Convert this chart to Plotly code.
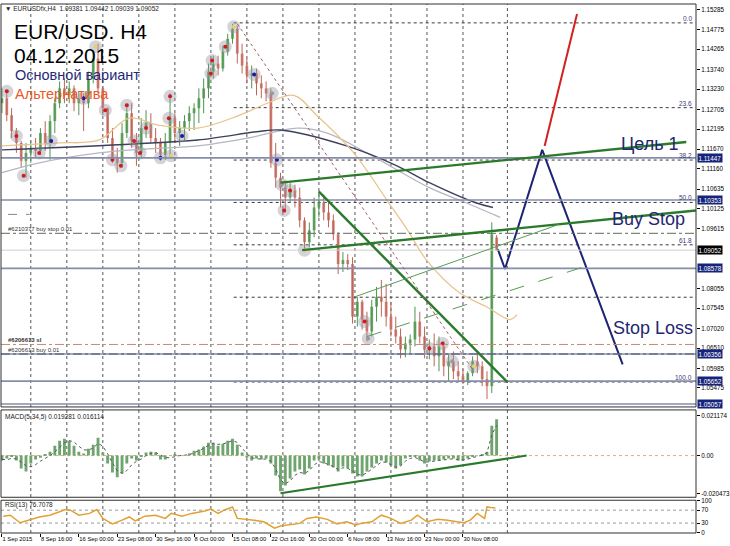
import plotly.graph_objects as go

# ---------------- data (H4 bars, index 0 = 1 Sep 2015 00:00; one candle per 4 bars) ----------------
bar = list(range(0, 416, 4))
opens = [1.12864, 1.12993, 1.12555, 1.12143, 1.11834, 1.11370, 1.11576, 1.11705, 1.11628, 1.12091,
         1.11834, 1.12400, 1.12864, 1.13250, 1.13070, 1.13250, 1.12864, 1.12993, 1.12864, 1.13508,
         1.14023, 1.13250, 1.12735, 1.11962, 1.11447, 1.11318, 1.12091, 1.12606, 1.11885, 1.11576,
         1.12220, 1.12349, 1.11962, 1.11834, 1.11525, 1.11834, 1.12478, 1.12091, 1.12220, 1.12400,
         1.12606, 1.12735, 1.12993, 1.13250, 1.13688, 1.13894, 1.13766, 1.14204, 1.14538, 1.14796,
         1.14152, 1.13843, 1.13585, 1.13637, 1.13379, 1.13250, 1.13122, 1.11318, 1.10932, 1.10674,
         1.10417, 1.10597, 1.10417, 1.09824, 1.09258, 1.09567, 1.10159, 1.10288, 1.10030, 1.09824,
         1.09464, 1.08691, 1.08794, 1.08691, 1.07326, 1.07712, 1.07248, 1.06939, 1.07583, 1.07841,
         1.07712, 1.07326, 1.06991, 1.06810, 1.06475, 1.06630, 1.06733, 1.07197, 1.06810, 1.06475,
         1.06553, 1.06295, 1.06553, 1.06037, 1.06166, 1.05908, 1.05780, 1.05651, 1.05857, 1.06166,
         1.06037, 1.05703, 1.05522, 1.09381]
highs = [1.13250, 1.13173, 1.12735, 1.12220, 1.11885, 1.11834, 1.11885, 1.11962, 1.12220, 1.12400,
         1.12555, 1.12993, 1.13431, 1.13508, 1.13431, 1.13328, 1.13173, 1.13122, 1.13688, 1.14204,
         1.14410, 1.13302, 1.12760, 1.12220, 1.11705, 1.12349, 1.12864, 1.12864, 1.12091, 1.12478,
         1.12684, 1.12606, 1.12220, 1.11962, 1.12091, 1.13122, 1.12606, 1.12400, 1.12555, 1.12787,
         1.12864, 1.13250, 1.13508, 1.13894, 1.14100, 1.14100, 1.14358, 1.14667, 1.14925, 1.14873,
         1.14410, 1.14023, 1.13843, 1.13766, 1.13585, 1.13431, 1.13250, 1.11834, 1.11061, 1.10855,
         1.10803, 1.10752, 1.10674, 1.09902, 1.09773, 1.10417, 1.10597, 1.10494, 1.10288, 1.09979,
         1.09515, 1.09000, 1.08949, 1.08871, 1.07841, 1.07764, 1.07454, 1.07764, 1.08098, 1.08279,
         1.08176, 1.07712, 1.07326, 1.07017, 1.06810, 1.06862, 1.07583, 1.07454, 1.07068, 1.06733,
         1.06888, 1.06810, 1.06682, 1.06372, 1.06424, 1.06166, 1.05960, 1.05908, 1.06295, 1.06372,
         1.06166, 1.05908, 1.09773, 1.09442]
lows = [1.12606, 1.12400, 1.11962, 1.11576, 1.11190, 1.10932, 1.11318, 1.11447, 1.11525, 1.11628,
        1.11396, 1.12091, 1.12735, 1.12864, 1.12864, 1.12658, 1.12555, 1.12143, 1.12735, 1.13379,
        1.13122, 1.12555, 1.11834, 1.11318, 1.11061, 1.11190, 1.11962, 1.11705, 1.11241, 1.11447,
        1.11962, 1.11834, 1.11576, 1.11370, 1.11396, 1.11447, 1.11834, 1.11756, 1.11885, 1.12143,
        1.12169, 1.12349, 1.12606, 1.12993, 1.13508, 1.13585, 1.13688, 1.14100, 1.14410, 1.13894,
        1.13637, 1.13379, 1.13250, 1.13070, 1.12993, 1.12916, 1.11190, 1.10674, 1.10159, 1.10030,
        1.10288, 1.10159, 1.09644, 1.09000, 1.09129, 1.09386, 1.09902, 1.09824, 1.09644, 1.09309,
        1.08433, 1.08485, 1.08536, 1.07146, 1.07068, 1.06991, 1.06682, 1.06810, 1.07197, 1.07326,
        1.07068, 1.06810, 1.06630, 1.06243, 1.06269, 1.06372, 1.06553, 1.06630, 1.06243, 1.06218,
        1.06037, 1.05908, 1.05780, 1.05651, 1.05703, 1.05651, 1.05574, 1.05548, 1.05780, 1.05857,
        1.05522, 1.05188, 1.05342, 1.09039]
closes = [1.12993, 1.12555, 1.12143, 1.11834, 1.11370, 1.11576, 1.11705, 1.11628, 1.12091, 1.11834,
          1.12400, 1.12864, 1.13250, 1.13070, 1.13250, 1.12864, 1.12993, 1.12864, 1.13508, 1.14023,
          1.13250, 1.12735, 1.11962, 1.11447, 1.11318, 1.12091, 1.12606, 1.11885, 1.11576, 1.12220,
          1.12349, 1.11962, 1.11834, 1.11525, 1.11834, 1.12478, 1.12091, 1.12220, 1.12400, 1.12606,
          1.12735, 1.12993, 1.13250, 1.13688, 1.13894, 1.13766, 1.14204, 1.14538, 1.14796, 1.14152,
          1.13843, 1.13585, 1.13637, 1.13379, 1.13250, 1.13122, 1.11318, 1.10932, 1.10674, 1.10417,
          1.10597, 1.10417, 1.09824, 1.09258, 1.09567, 1.10159, 1.10288, 1.10030, 1.09824, 1.09464,
          1.08691, 1.08794, 1.08691, 1.07326, 1.07712, 1.07248, 1.06939, 1.07583, 1.07841, 1.07712,
          1.07326, 1.06991, 1.06810, 1.06475, 1.06630, 1.06733, 1.07197, 1.06810, 1.06475, 1.06553,
          1.06295, 1.06553, 1.06037, 1.06166, 1.05908, 1.05780, 1.05651, 1.05857, 1.06166, 1.06037,
          1.05703, 1.05522, 1.09464, 1.09052]

# moving averages (bar index, price)
ma_tan_bars = [0, 48, 81, 106, 130, 163, 196, 221, 243, 262, 293, 322, 339, 353, 380, 405, 423, 429]
ma_tan_vals = [1.11756, 1.11834, 1.11911, 1.12478, 1.12297, 1.12220, 1.12529, 1.12864, 1.13070,
               1.12555, 1.11576, 1.10288, 1.09515, 1.08820, 1.07970, 1.07558, 1.07249, 1.07377]
ma_navy_bars = [0, 110, 163, 217, 232, 287, 329, 356, 394, 409]
ma_navy_vals = [1.11653, 1.11808, 1.11911, 1.12143, 1.12169, 1.11756, 1.11241, 1.10803, 1.10288, 1.10159]
ma_gray_bars = [0, 31, 81, 122, 163, 205, 246, 271, 304, 356, 386, 415]
ma_gray_vals = [1.11061, 1.11318, 1.11576, 1.11679, 1.11756, 1.11962, 1.12220, 1.12091, 1.11576,
                1.10674, 1.10288, 1.09902]

# fractal circles (bar index, price, dot colour key)
circ_bars = [4, 12, 18, 31, 41, 68, 78, 86, 92, 99, 104, 110, 115, 120, 132, 141, 140, 139, 150, 174,
             175, 186, 193, 210, 225, 229, 233, 235, 240, 252, 302, 305, 356, 367, 375, 393]
circ_vals = [1.13173, 1.12014, 1.10984, 1.11576, 1.11885, 1.12993, 1.14332, 1.12684, 1.11396, 1.11241,
             1.12813, 1.11885, 1.11576, 1.12220, 1.11447, 1.11499, 1.13044, 1.12478, 1.12014, 1.13637,
             1.13972, 1.14332, 1.14848, 1.13611, 1.13122, 1.11396, 1.10752, 1.10082, 1.10597, 1.09052,
             1.07197, 1.06759, 1.06501, 1.06630, 1.06166, 1.06037]
circ_kind = ["r", "r", "r", "r", "b", "b", "y", "r", "r", "r", "r", "r", "r", "r", "b", "y", "r", "r", "b", "r",
             "r", "r", "y", "b", "g", "b", "g", "r", "r", "y", "r", "g", "r", "r", "g", "y"]

# MACD(5,34,5) histogram and signal, sampled like the candles
macd = [-0.0026, -0.0016, -0.0005, -0.0026, -0.0069, -0.0085, -0.0042, -0.0021, -0.0011, 0.0005,
        0.0021, 0.0053, 0.0079, 0.0090, 0.0079, 0.0053, 0.0021, 0.0011, 0.0037, 0.0058,
        0.0095, 0.0016, -0.0042, -0.0090, -0.0116, -0.0095, -0.0042, -0.0016, -0.0026, -0.0005,
        0.0016, 0.0021, 0.0016, -0.0021, -0.0021, 0.0000, 0.0005, 0.0000, 0.0000, 0.0011,
        0.0026, 0.0032, 0.0048, 0.0069, 0.0069, 0.0053, 0.0063, 0.0079, 0.0090, 0.0058,
        0.0016, -0.0011, -0.0026, -0.0016, -0.0021, -0.0016, -0.0042, -0.0106, -0.0190, -0.0159,
        -0.0122, -0.0085, -0.0074, -0.0101, -0.0069, -0.0026, -0.0021, -0.0042, -0.0053, -0.0063,
        -0.0085, -0.0058, -0.0069, -0.0095, -0.0111, -0.0111, -0.0085, -0.0063, -0.0042, -0.0026,
        -0.0037, -0.0053, -0.0069, -0.0053, -0.0016, -0.0005, -0.0005, -0.0026, -0.0042, -0.0032,
        -0.0026, -0.0026, -0.0021, -0.0016, -0.0016, -0.0026, -0.0026, -0.0016, -0.0005, 0.0000,
        0.0005, 0.0021, 0.0159, 0.0193]
signal = [-0.0020, -0.0022, -0.0015, -0.0018, -0.0035, -0.0055, -0.0060, -0.0048, -0.0030, -0.0015,
          0.0000, 0.0020, 0.0045, 0.0068, 0.0080, 0.0072, 0.0050, 0.0030, 0.0030, 0.0040,
          0.0065, 0.0050, 0.0010, -0.0040, -0.0080, -0.0095, -0.0080, -0.0050, -0.0030, -0.0018,
          0.0000, 0.0012, 0.0016, 0.0005, -0.0010, -0.0012, -0.0005, 0.0000, 0.0002, 0.0005,
          0.0015, 0.0025, 0.0038, 0.0055, 0.0065, 0.0060, 0.0062, 0.0070, 0.0080, 0.0070,
          0.0040, 0.0010, -0.0012, -0.0018, -0.0020, -0.0018, -0.0030, -0.0070, -0.0130, -0.0150,
          -0.0135, -0.0105, -0.0090, -0.0095, -0.0080, -0.0050, -0.0032, -0.0038, -0.0048, -0.0058,
          -0.0075, -0.0065, -0.0068, -0.0085, -0.0100, -0.0105, -0.0092, -0.0072, -0.0052, -0.0035,
          -0.0035, -0.0048, -0.0062, -0.0055, -0.0030, -0.0015, -0.0010, -0.0020, -0.0035, -0.0033,
          -0.0028, -0.0026, -0.0023, -0.0019, -0.0017, -0.0022, -0.0024, -0.0019, -0.0010, -0.0004,
          0.0002, 0.0015, 0.0110, 0.0161]

# RSI(13)
rsi_bars = [1, 7, 15, 23, 31, 40, 48, 53, 57, 64, 73, 79, 84, 92, 100, 106, 111, 119, 128, 136,
            141, 150, 158, 169, 174, 180, 185, 192, 196, 205, 210, 218, 227, 232, 240, 248, 254, 262, 271, 279,
            287, 295, 299, 308, 316, 324, 332, 341, 346, 354, 363, 371, 379, 385, 390, 396, 402, 404, 407, 411]
rsi_vals = [51.5, 54.5, 31, 39, 49, 54.5, 64.5, 72, 70, 54.5, 60, 72, 44.5, 27, 39, 49, 37, 51.5, 54.5, 44.5,
            60, 51.5, 60, 67.5, 73.7, 60, 70, 80, 44.5, 41.5, 39, 34, 14, 21, 24, 29, 44.5, 49, 41.5, 27,
            34, 24, 29, 34, 54.5, 44.5, 29, 39, 54.5, 34, 41.5, 39, 34, 31, 39, 60, 44.5, 80, 78, 76.7]

# axis ticks
xtick_bars = [0, 32, 64, 96, 128, 160, 192, 224, 256, 288, 320, 352, 384]
xtick_text = ["1 Sep 2015", "8 Sep 16:00", "16 Sep 00:00", "23 Sep 08:00", "30 Sep 16:00", "8 Oct 00:00",
              "15 Oct 08:00", "22 Oct 16:00", "30 Oct 00:00", "6 Nov 08:00", "13 Nov 16:00",
              "23 Nov 00:00", "30 Nov 08:00"]
grid_bars = [24, 54, 84, 114, 144, 174, 204, 234, 264, 294, 324, 354, 384, 421]
price_ticks = [1.15285, 1.14775, 1.14265, 1.13740, 1.13230, 1.12705, 1.12195, 1.11670, 1.11160, 1.10635,
               1.10125, 1.09615, 1.08055, 1.07545, 1.07020, 1.06510, 1.05985, 1.05475]
level_prices = [1.11447, 1.10353, 1.08578, 1.06356, 1.05652, 1.05057]
bid_price = 1.09052

# fibonacci retracement
fib_names = ["0.0", "23.6", "38.2", "50.0", "61.8", "", "100.0"]
fib_prices = [1.1495, 1.1275, 1.1139, 1.1029, 1.0919, 1.0783, 1.0563]
fib_start = 193

# orders
orders = [("#6210377 buy stop 0.01", 1.09489), ("<b>#6206613 sl</b>", 1.06604), ("#6206613 buy 0.01", 1.06356)]

# drawn objects: (bar0, price0, bar1, price1)
green_thick = [(232, 1.10803, 570, 1.11859), (250, 1.09052, 578, 1.10082), (264, 1.10571, 421, 1.05626)]
green_thin = (294, 1.07841, 464, 1.09721)
green_dash = (304, 1.06810, 492, 1.08691)
fib_diag = (196, 1.14925, 393, 1.05909)
path_main_bars = [413, 419, 450, 517]
path_main_vals = [1.09077, 1.08562, 1.11653, 1.06089]
path_alt_bars = [452, 479]
path_alt_vals = [1.11756, 1.15182]
macd_trend = (232, -0.0201, 437, 0.0)

# ---------------- geometry ----------------
W, H = 730, 546
ML, MR, MT, MB = 1, 27, 0, 13
PW, PH = W - ML - MR, H - MT - MB
def fx(x): return (x - ML) / PW
def fy(y): return 1 - (y - MT) / PH

D_MAIN = [fy(406), 1.0]
D_MACD = [fy(497), fy(409)]
D_RSI = [0.0, fy(500)]
FONT = "Liberation Sans, Arial, sans-serif"

fig = go.Figure()

# candles: bodies as bars, wicks as lines
up = [c >= o for o, c in zip(opens, closes)]
body_base = [min(o, c) for o, c in zip(opens, closes)]
body_len = [max(abs(c - o), 0.00008) for o, c in zip(opens, closes)]
for flag, wick_col, body_col in [(True, "#4f944f", "#6aa86a"), (False, "#bd6457", "#d4847a")]:
    wx, wy = [], []
    for b, h, l, u in zip(bar, highs, lows, up):
        if u == flag:
            wx += [b, b, None]
            wy += [h, l, None]
    fig.add_trace(go.Scatter(x=wx, y=wy, mode="lines", line=dict(color=wick_col, width=1),
                             xaxis="x", yaxis="y", hoverinfo="skip", showlegend=False))
    fig.add_trace(go.Bar(x=[b for b, u in zip(bar, up) if u == flag],
                         y=[v for v, u in zip(body_len, up) if u == flag],
                         base=[v for v, u in zip(body_base, up) if u == flag],
                         width=2.3, marker=dict(color=body_col, line=dict(width=0)),
                         xaxis="x", yaxis="y", hoverinfo="skip", showlegend=False))

for bx, vy, col, w in [(ma_gray_bars, ma_gray_vals, "#b4b6c2", 1.3),
                       (ma_navy_bars, ma_navy_vals, "#3c3f5e", 1.4),
                       (ma_tan_bars, ma_tan_vals, "#e9c48e", 1.3)]:
    fig.add_trace(go.Scatter(x=bx, y=vy, mode="lines", line=dict(color=col, width=w, shape="spline"),
                             xaxis="x", yaxis="y", hoverinfo="skip", showlegend=False))

fig.add_trace(go.Scatter(x=circ_bars, y=circ_vals, mode="markers",
                         marker=dict(size=13, color="rgba(150,150,165,0.42)", line=dict(width=0)),
                         xaxis="x", yaxis="y", hoverinfo="skip", showlegend=False))
dotcol = {"r": "#d11a1a", "b": "#1a1aa8", "y": "#e8d060", "g": "#9a9a9a"}
fig.add_trace(go.Scatter(x=circ_bars, y=circ_vals, mode="markers",
                         marker=dict(size=4, color=[dotcol[k] for k in circ_kind]),
                         xaxis="x", yaxis="y", hoverinfo="skip", showlegend=False))

# forecast paths
fig.add_trace(go.Scatter(x=path_main_bars, y=path_main_vals, mode="lines",
                         line=dict(color="#1c2474", width=2), xaxis="x", yaxis="y",
                         hoverinfo="skip", showlegend=False))
fig.add_trace(go.Scatter(x=path_alt_bars, y=path_alt_vals, mode="lines",
                         line=dict(color="#d42020", width=2), xaxis="x", yaxis="y",
                         hoverinfo="skip", showlegend=False))

# MACD
fig.add_trace(go.Bar(x=bar, y=macd, width=2.4, marker=dict(color="#6ea56e", line=dict(width=0)),
                     xaxis="x", yaxis="y2", hoverinfo="skip", showlegend=False))
fig.add_trace(go.Scatter(x=bar, y=signal, mode="lines", line=dict(color="#5a5a5a", width=1, dash="dot"),
                         xaxis="x", yaxis="y2", hoverinfo="skip", showlegend=False))
# RSI
fig.add_trace(go.Scatter(x=rsi_bars, y=rsi_vals, mode="lines", line=dict(color="#e2a032", width=1.5),
                         xaxis="x", yaxis="y3", hoverinfo="skip", showlegend=False))

shapes = []
for b in grid_bars:
    shapes.append(dict(type="line", xref="x", yref="paper", x0=b, x1=b, y0=0, y1=1, layer="below",
                       line=dict(color="#555555", width=1, dash="dot")))
for p in fib_prices:
    shapes.append(dict(type="line", xref="x", yref="y", x0=fib_start, x1=578, y0=p, y1=p, layer="below",
                       line=dict(color="#3a3a3a", width=1, dash="dot")))
for p in level_prices:
    shapes.append(dict(type="line", xref="paper", yref="y", x0=0, x1=1, y0=p, y1=p,
                       line=dict(color="#868cab", width=1.6)))
shapes.append(dict(type="line", xref="paper", yref="y", x0=0, x1=1, y0=bid_price, y1=bid_price,
                   line=dict(color="#cfcfcf", width=1)))
order_cols = ["#5b6b5b", "#c68a6c", "#4d5470"]
for (t, p), c in zip(orders, order_cols):
    shapes.append(dict(type="line", xref="paper", yref="y", x0=0, x1=1, y0=p, y1=p,
                       line=dict(color=c, width=1, dash="dashdot")))
shapes.append(dict(type="line", xref="x", yref="y", x0=5, x1=23, y0=1.09979, y1=1.09979,
                   line=dict(color="#888888", width=1, dash="dash")))
for (a0, p0, a1, p1) in green_thick:
    shapes.append(dict(type="line", xref="x", yref="y", x0=a0, y0=p0, x1=a1, y1=p1,
                       line=dict(color="#2b7a2b", width=2.4)))
a0, p0, a1, p1 = green_thin
shapes.append(dict(type="line", xref="x", yref="y", x0=a0, y0=p0, x1=a1, y1=p1,
                   line=dict(color="#5a9a5a", width=1)))
a0, p0, a1, p1 = green_dash
shapes.append(dict(type="line", xref="x", yref="y", x0=a0, y0=p0, x1=a1, y1=p1,
                   line=dict(color="#5a9a5a", width=1, dash="longdash")))
a0, p0, a1, p1 = fib_diag
shapes.append(dict(type="line", xref="x", yref="y", x0=a0, y0=p0, x1=a1, y1=p1,
                   line=dict(color="#a06060", width=1, dash="dot")))
a0, p0, a1, p1 = macd_trend
shapes.append(dict(type="line", xref="x", yref="y2", x0=a0, y0=p0, x1=a1, y1=p1,
                   line=dict(color="#2b7a2b", width=2)))
shapes.append(dict(type="line", xref="paper", yref="y2", x0=0, x1=1, y0=0, y1=0, layer="below",
                   line=dict(color="#d8ae7a", width=1, dash="dot")))
for v in [70, 30]:
    shapes.append(dict(type="line", xref="paper", yref="y3", x0=0, x1=1, y0=v, y1=v, layer="below",
                       line=dict(color="#9a9a9a", width=1, dash="dot")))
for d in [D_MAIN, D_MACD, D_RSI]:
    shapes.append(dict(type="rect", xref="paper", yref="paper", x0=0, x1=1, y0=d[0], y1=d[1],
                       line=dict(color="#303030", width=1)))

ann = []
def txt(x, y, s, size, color="#000000"):
    ann.append(dict(xref="paper", yref="paper", x=fx(x), y=fy(y), text=s, showarrow=False,
                    xanchor="left", yanchor="middle", borderpad=0,
                    font=dict(family=FONT, size=size, color=color)))

txt(4, 5, "▼ EURUSDfx,H4  1.09381 1.09442 1.09039 1.09052", 6.5, "#222222")
txt(13, 28, "EUR/USD. H4", 21)
txt(13, 51.5, "04.12.2015", 21)
txt(14, 71.5, "Основной вариант", 14.5, "#252a78")
txt(14, 90.5, "Альтернатива", 14.5, "#ea5a26")
txt(626, 141, "Цель 1", 18, "#1f2772")
txt(617, 217, "Buy Stop", 18, "#1f2772")
txt(618, 326, "Stop Loss", 18, "#1f2772")
txt(4, 416, "MACD(5,34,5) 0.019281 0.016114", 6.5, "#222222")
txt(4, 505, "RSI(13) 76.7078", 6.5, "#222222")

for n, p in zip(fib_names, fib_prices):
    if n:
        ann.append(dict(xref="paper", yref="y", x=0.997, y=p, text=n, showarrow=False, xanchor="right",
                        yanchor="bottom", yshift=-1, font=dict(family=FONT, size=6.5, color="#3c3c7c")))
for t, p in orders:
    ann.append(dict(xref="paper", yref="y", x=fx(6), y=p, text=t, showarrow=False, xanchor="left",
                    yanchor="bottom", yshift=-1, font=dict(family=FONT, size=6, color="#333333")))
for p in level_prices:
    ann.append(dict(xref="paper", yref="y", x=1, y=p, text=f"{p:.5f}", showarrow=False, xanchor="left",
                    xshift=1, yanchor="middle", bgcolor="#16237a", borderpad=0.5,
                    font=dict(family=FONT, size=6.3, color="#ffffff")))
ann.append(dict(xref="paper", yref="y", x=1, y=bid_price, text=f"{bid_price:.5f}", showarrow=False,
                xanchor="left", xshift=1, yanchor="middle", bgcolor="#000000", borderpad=0.5,
                font=dict(family=FONT, size=6.3, color="#ffffff")))

axis_font = dict(family=FONT, size=6.3, color="#000000")
fig.update_layout(
    width=W, height=H, margin=dict(l=ML, r=MR, t=MT, b=MB),
    paper_bgcolor="#ffffff", plot_bgcolor="#ffffff", showlegend=False, barmode="overlay",
    xaxis=dict(domain=[0, 1], range=[-0.825, 578.1], anchor="y3", tickvals=xtick_bars, ticktext=xtick_text,
               ticklabelposition="outside right", tickangle=0, ticks="outside", ticklen=3, tickcolor="#000",
               tickfont=dict(family=FONT, size=5.8, color="#000"), showgrid=False, zeroline=False,
               showline=False, rangeslider=dict(visible=False), fixedrange=True),
    yaxis=dict(domain=D_MAIN, range=[1.04982, 1.15440], side="right", anchor="x", tickvals=price_ticks,
               ticktext=[f"{v:.5f}" for v in price_ticks], ticks="outside", ticklen=3, tickcolor="#000",
               tickfont=axis_font, showgrid=False, zeroline=False, showline=False),
    yaxis2=dict(domain=D_MACD, range=[-0.02222, 0.02433], side="right", anchor="x",
                tickvals=[0.021174, 0.0, -0.020473], ticktext=["0.021174", "0.00", "-0.020473"],
                ticks="outside", ticklen=3, tickcolor="#000", tickfont=axis_font,
                showgrid=False, zeroline=False, showline=False),
    yaxis3=dict(domain=D_RSI, range=[-0.8, 100.8], side="right", anchor="x",
                tickvals=[100, 70, 30, 0], ticktext=["100", "70", "30", "0"],
                ticks="outside", ticklen=3, tickcolor="#000", tickfont=axis_font,
                showgrid=False, zeroline=False, showline=False),
    shapes=shapes, annotations=ann,
)

fig.write_html("out.html", config={"displayModeBar": False},
               post_script="document.body.style.margin='0px';")
